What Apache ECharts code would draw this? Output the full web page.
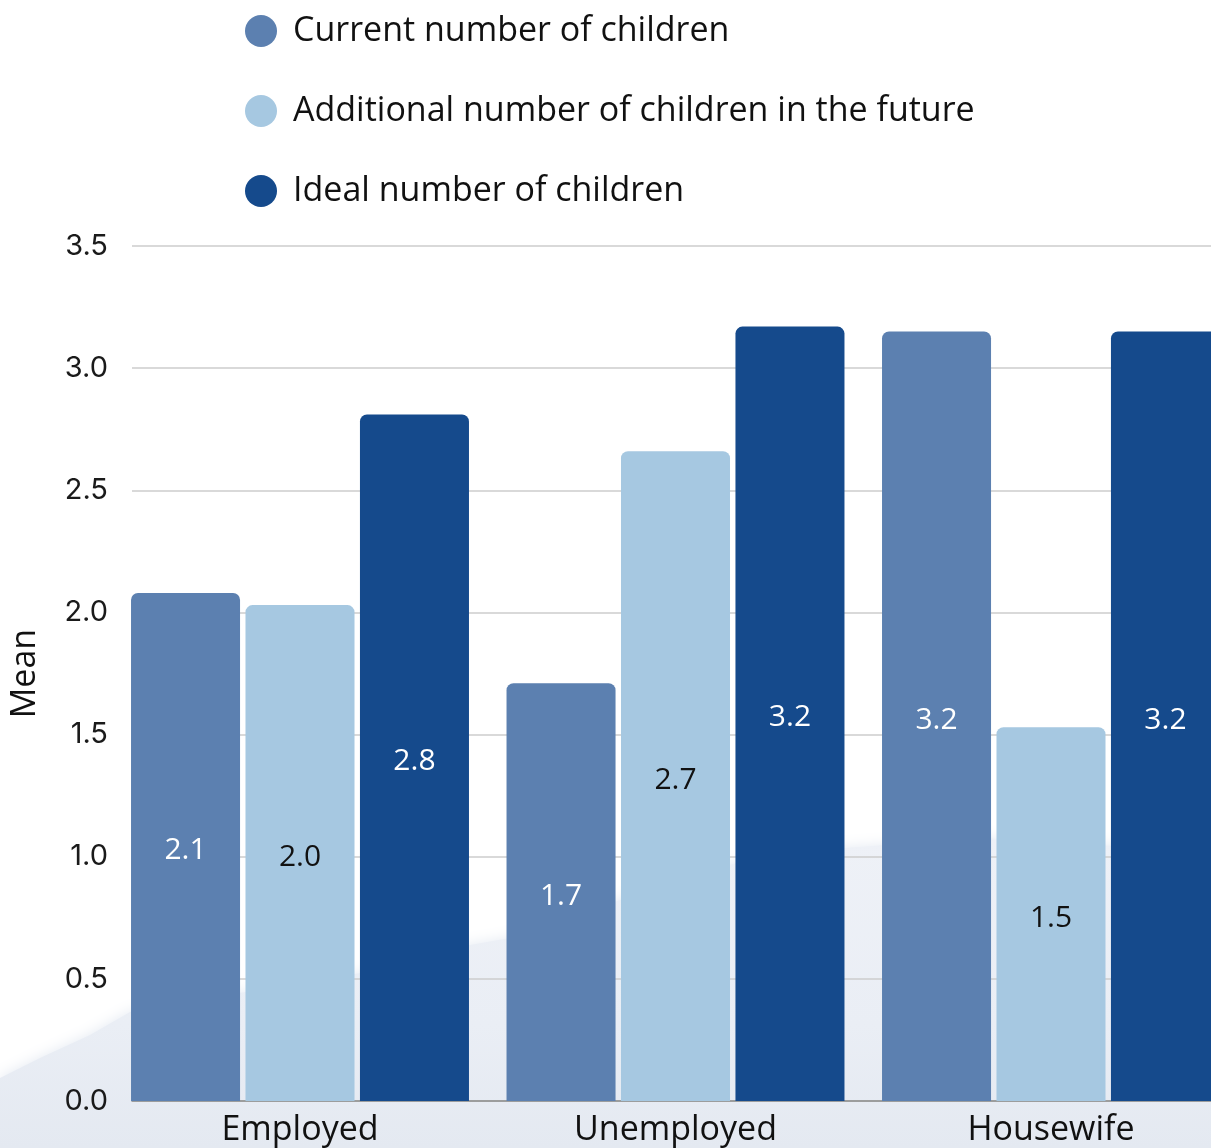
<!DOCTYPE html>
<html>
<head>
<meta charset="utf-8">
<script src="https://cdn.jsdelivr.net/npm/echarts@6/dist/echarts.min.js"></script>
<style>
  html, body { margin: 0; padding: 0; background: #ffffff; overflow: hidden; }
  #chart { width: 1270px; height: 1148px; }
</style>
</head>
<body>
<div id="chart"></div>
<script>
// Mean number of children by employment status
const categories = ['Employed', 'Unemployed', 'Housewife'];
const seriesNames = [
  'Current number of children',
  'Additional number of children in the future',
  'Ideal number of children'
];
const currentChildren = [2.08, 1.71, 3.15];
const additionalChildren = [2.03, 2.66, 1.53];
const idealChildren = [2.81, 3.17, 3.15];
const yTicks = [0, 0.5, 1.0, 1.5, 2.0, 2.5, 3.0, 3.5];

const colors = ['#5c80b0', '#a6c8e1', '#154a8c'];
const labelColors = ['#ffffff', '#111111', '#ffffff'];
const textFont = '"Open Sans", sans-serif';
const tickFont = 'Inter, sans-serif';

const PLOT_TOP = 246;
const PLOT_HEIGHT = 855;
const BAND = 375.5;

// The plot runs past the right edge of the page, so the canvas is wider than the window.
const chart = echarts.init(document.getElementById('chart'), null, { renderer: 'canvas' });

const values = [currentChildren, additionalChildren, idealChildren];

const series = values.map((data, i) => ({
  name: seriesNames[i],
  type: 'bar',
  xAxisIndex: 0,
  yAxisIndex: 0,
  data: data,
  barGap: '5%',
  barCategoryGap: '10%',
  itemStyle: { color: colors[i], borderRadius: [7, 7, 0, 0] },
  label: {
    show: true,
    position: 'inside',
    offset: [0, 4],
    color: labelColors[i],
    fontFamily: textFont,
    fontSize: 30,
    formatter: p => (Math.round(p.value * 10) / 10).toFixed(1)
  },
  emphasis: { disabled: true }
}));

// soft misty hills behind the lower part of the plot
const hazeColor = '#eaeef5';
const hazePoints = [
  [0, 1078], [40, 1058], [90, 1035], [130, 1012], [200, 998], [300, 985],
  [400, 965], [470, 945], [510, 938], [580, 915], [660, 885], [740, 862],
  [845, 848], [900, 844], [980, 838], [1060, 842], [1140, 848], [1270, 845],
  [1270, 1148], [0, 1148]
];

chart.setOption({
  animation: false,
  backgroundColor: '#ffffff',
  graphic: [{
    type: 'polygon',
    z: -10,
    silent: true,
    shape: { points: hazePoints },
    style: {
      fill: {
        type: 'linear', x: 0, y: 0, x2: 0, y2: 1,
        colorStops: [
          { offset: 0, color: '#eef1f7' },
          { offset: 0.6, color: hazeColor },
          { offset: 1, color: '#e4e9f1' }
        ]
      },
      shadowBlur: 14,
      shadowColor: 'rgba(225,231,240,0.9)'
    }
  }],
  legend: {
    orient: 'vertical',
    left: 240,
    top: 9,
    itemWidth: 32,
    itemHeight: 32,
    itemGap: 46,
    icon: 'circle',
    selectedMode: false,
    data: seriesNames,
    textStyle: {
      fontFamily: textFont, fontSize: 34, lineHeight: 32,
      color: '#111111', padding: [0, 0, 0, 11]
    }
  },
  grid: [
    { left: 112.25, top: PLOT_TOP, width: BAND * 3, height: PLOT_HEIGHT, containLabel: false },
    { left: 131, top: PLOT_TOP, width: 1135, height: PLOT_HEIGHT, containLabel: false }
  ],
  xAxis: [
    {
      type: 'category',
      gridIndex: 0,
      data: categories,
      axisLine: { show: false },
      axisTick: { show: false },
      axisLabel: { fontFamily: textFont, fontSize: 34, color: '#111111', margin: 12 }
    },
    {
      type: 'value',
      gridIndex: 1,
      min: 0,
      max: 1,
      axisLine: { show: true, lineStyle: { color: '#8a8a8a', width: 1.5 } },
      axisTick: { show: false },
      axisLabel: { show: false },
      splitLine: { show: false }
    }
  ],
  yAxis: [
    {
      type: 'value',
      gridIndex: 0,
      min: 0,
      max: 3.5,
      interval: 0.5,
      show: false
    },
    {
      type: 'value',
      gridIndex: 1,
      min: 0,
      max: 3.5,
      interval: 0.5,
      name: 'Mean',
      nameLocation: 'middle',
      nameGap: 90,
      nameTextStyle: { fontFamily: textFont, fontSize: 34, color: '#111111' },
      axisLine: { show: false },
      axisTick: { show: false },
      axisLabel: {
        fontFamily: tickFont,
        fontSize: 29,
        color: '#1a1a1a',
        margin: 24,
        padding: [5, 0, 0, 0],
        formatter: v => yTicks.includes(v) ? v.toFixed(1) : ''
      },
      splitLine: { show: true, lineStyle: { color: '#cccccc', width: 1.5 } }
    }
  ],
  series: series
});
</script>
</body>
</html>
